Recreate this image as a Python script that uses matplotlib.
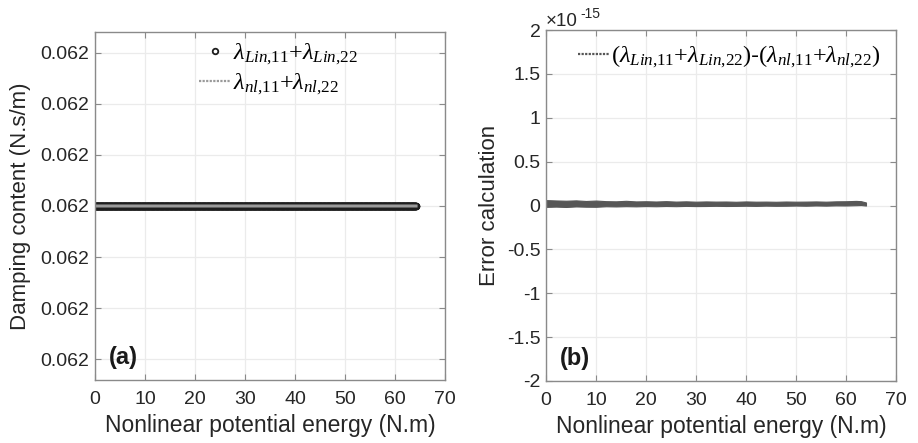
import numpy as np
import matplotlib
matplotlib.use("Agg")
import matplotlib.pyplot as plt
from matplotlib.ticker import FormatStrFormatter, FuncFormatter, MultipleLocator
from matplotlib.lines import Line2D

# ---- data ----
energy_max = 64.2                       # N.m, end of the sweep
damping_value = 0.062                   # lambda_Lin,11 + lambda_Lin,22 (constant)
err_x = [0, 2, 4, 6, 8, 10, 12, 14, 16, 18, 20, 22, 24, 26, 28, 30, 32, 34, 36,
         38, 40, 42, 44, 46, 48, 50, 52, 54, 56, 58, 60, 62, 63, 64]
# error band envelope (units of 1e-15)
err_upper = [0.062, 0.058, 0.055, 0.059, 0.052, 0.057, 0.050, 0.048, 0.054, 0.047,
             0.049, 0.046, 0.050, 0.045, 0.048, 0.044, 0.047, 0.045, 0.046, 0.043,
             0.047, 0.044, 0.045, 0.043, 0.046, 0.044, 0.045, 0.047, 0.044, 0.048,
             0.049, 0.053, 0.050, 0.035]
err_lower = [-0.015, -0.012, -0.016, -0.010, -0.013, -0.014, -0.008, -0.010, -0.007,
             -0.009, -0.006, -0.008, -0.005, -0.007, -0.004, -0.006, -0.005, -0.003,
             -0.005, -0.004, -0.002, -0.004, -0.001, -0.003, -0.002, 0.000, -0.002, 0.001,
             -0.001, 0.002, 0.001, 0.004, 0.006, 0.000]
x_ticks = [0, 10, 20, 30, 40, 50, 60, 70]
err_ticks = [-2, -1.5, -1, -0.5, 0, 0.5, 1, 1.5, 2]   # x 1e-15

energy = np.linspace(0, energy_max, 2500)
damping_lin = [damping_value] * len(energy)
damping_nl = [damping_value] * len(energy)

plt.rcParams['font.family'] = ['Liberation Sans', 'DejaVu Sans']
plt.rcParams['mathtext.fontset'] = 'custom'
plt.rcParams['mathtext.it'] = 'Liberation Serif:italic'
plt.rcParams['mathtext.rm'] = 'Liberation Serif'
plt.rcParams['mathtext.default'] = 'it'
plt.rcParams['axes.unicode_minus'] = False

fig = plt.figure(figsize=(9.18, 4.43), dpi=100)
ax1 = fig.add_axes([0.1035, 0.1422, 0.3813, 0.7856])
ax2 = fig.add_axes([0.5948, 0.140, 0.3812, 0.792])

tick_col = '#262626'
spine_col = '#8a8a8a'

def style(ax):
    ax.grid(True, color='#ebebeb', linewidth=0.9)
    ax.set_axisbelow(True)
    for s in ax.spines.values():
        s.set_color(spine_col)
        s.set_linewidth(1.0)
    ax.tick_params(direction='in', length=4, width=0.8, color=spine_col,
                   top=True, right=True, labelsize=14, labelcolor=tick_col)
    ax.tick_params(axis='x', pad=8)
    ax.tick_params(axis='y', pad=4)
    ax.set_xlim(0, 70)
    ax.set_xticks(x_ticks)
    ax.set_xlabel('Nonlinear potential energy (N.m)', fontsize=16.5, color=tick_col, labelpad=4)
    ax.yaxis.get_offset_text().set_visible(False)
    ax.xaxis.get_offset_text().set_visible(False)

def lam(sub):
    a, b = sub.split(',')
    return r'\lambda_{' + a + '{,}' + b + '}'

lab_lin = '$' + lam('Lin,11') + '{+}' + lam('Lin,22') + '$'
lab_nl = '$' + lam('nl,11') + '{+}' + lam('nl,22') + '$'
lab_err = '$(' + lam('Lin,11') + '{+}' + lam('Lin,22') + ')$-$(' + lam('nl,11') \
          + '{+}' + lam('nl,22') + ')$'

# ---- left panel ----
style(ax1)
step = 1e-9
ax1.set_ylim(damping_value - 3.41 * step, damping_value + 3.41 * step)
ax1.yaxis.set_major_locator(MultipleLocator(step))
ax1.yaxis.set_major_formatter(FormatStrFormatter('%.3f'))
ax1.plot(energy, damping_lin, linestyle='none', marker='o', markersize=4.0,
         markerfacecolor='none', markeredgecolor='#1e1e1e', markeredgewidth=1.3,
         label=lab_lin)
ax1.plot(energy, damping_nl, linestyle='-', color='#9a9a9a', linewidth=2.2,
         label=lab_nl)
ax1.set_ylabel('Damping content (N.s/m)', fontsize=16, color=tick_col, labelpad=7)
leg1 = ax1.legend(loc='upper left', bbox_to_anchor=(0.29, 0.978), frameon=False,
                  fontsize=17.5, handlelength=1.3, handletextpad=0.12, labelspacing=0.2,
                  borderaxespad=0, borderpad=0.1, markerscale=1.0)
h_nl = leg1.legend_handles[1]
h_nl.set_linestyle((0, (1, 0.6)))
h_nl.set_linewidth(1.6)
ax1.text(0.04, 0.045, '(a)', transform=ax1.transAxes, fontsize=17, fontweight='bold',
         color='#1a1a1a')

# ---- right panel ----
style(ax2)
ax2.set_ylim(-2, 2)
ax2.set_yticks(err_ticks)
ax2.yaxis.set_major_formatter(FuncFormatter(lambda v, p: f'{v:g}'))
ax2.fill_between(err_x, err_lower, err_upper, color='#575757', linewidth=0.8,
                 edgecolor='#575757')
proxy = Line2D([], [], linestyle=(0, (1, 0.6)), color='#555555', linewidth=1.6)
ax2.set_ylabel('Error calculation', fontsize=16, color=tick_col, labelpad=5)
ax2.legend([proxy], [lab_err], loc='upper left', bbox_to_anchor=(0.085, 0.968),
           frameon=False, fontsize=17.5, handlelength=1.3, handletextpad=0.05,
           borderaxespad=0, borderpad=0.1)
ax2.text(0.0, 1.0, '\u00d710', transform=ax2.transAxes, fontsize=13.5,
         color=tick_col, ha='left', va='bottom')
ax2.text(0.098, 1.026, '-15', transform=ax2.transAxes, fontsize=10,
         color=tick_col, ha='left', va='bottom')
ax2.text(0.04, 0.045, '(b)', transform=ax2.transAxes, fontsize=17, fontweight='bold',
         color='#1a1a1a')

fig.savefig('out.png', dpi=100)
